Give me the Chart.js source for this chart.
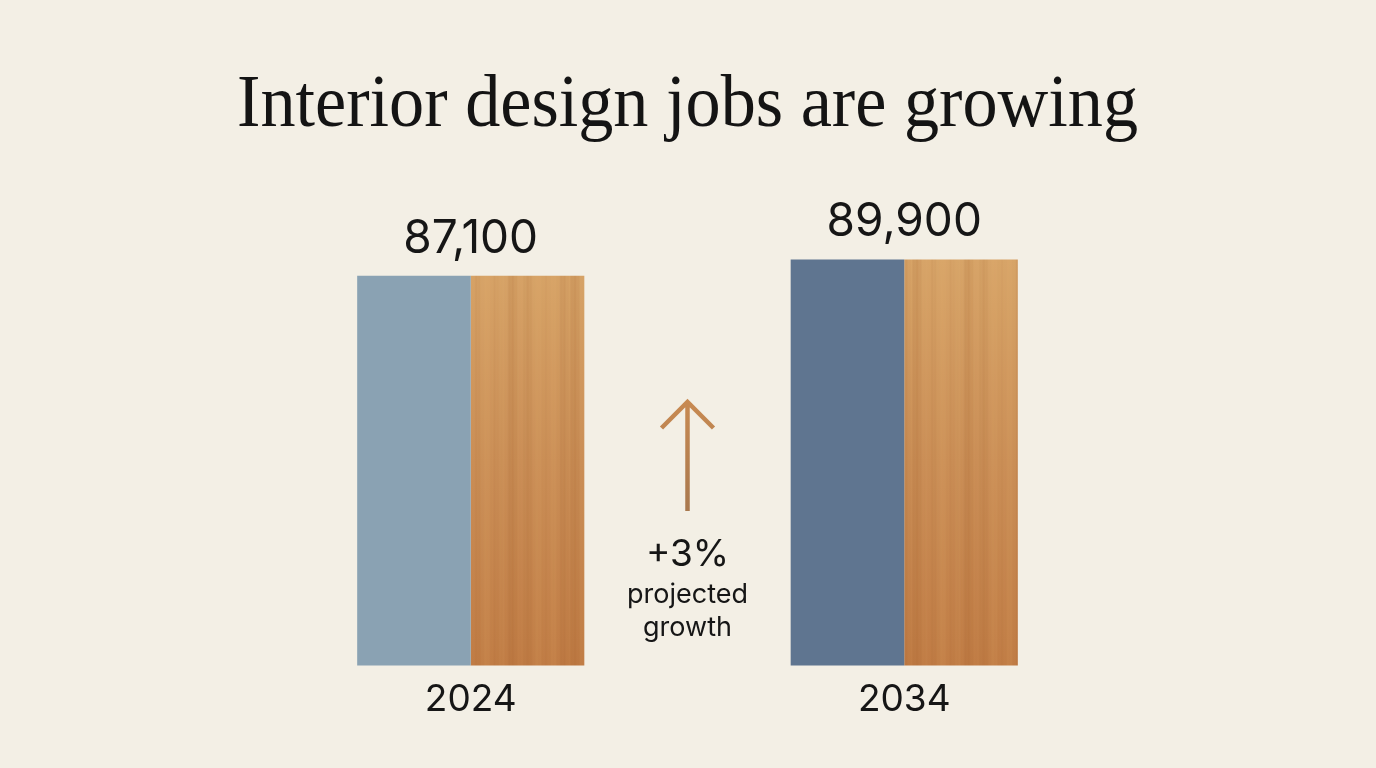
<!DOCTYPE html>
<html>
<head>
<meta charset="utf-8">
<script src="https://cdn.jsdelivr.net/npm/chart.js@4/dist/chart.umd.min.js"></script>
<style>
  html, body { margin: 0; padding: 0; background: #f3efe5; }
  #wrap { width: 1376px; height: 768px; }
</style>
</head>
<body>
<div id="wrap"><canvas id="jobs"></canvas></div>
<script>
const years = ['2024', '2034'];
const jobs = [87100, 89900];
const valueLabels = ['87,100', '89,900'];
const growthText = ['+3%', 'projected', 'growth'];

const blueColors = ['#8aa2b3', '#5f7590'];

// wood grain pattern (one tile covers the whole canvas height)
function woodPattern(ctx) {
  const c = document.createElement('canvas');
  c.width = 114; c.height = 768;
  const g = c.getContext('2d');
  const grad = g.createLinearGradient(0, 260, 0, 665);
  grad.addColorStop(0, '#d7a468');
  grad.addColorStop(0.5, '#ca8e56');
  grad.addColorStop(1, '#c07c45');
  g.fillStyle = grad;
  g.fillRect(0, 0, 114, 768);
  for (let x = 0; x < 114; x++) {
    const s = Math.sin(x * 0.37) + Math.sin(x * 0.11 + 1.3) * 0.8 + Math.sin(x * 1.7) * 0.3;
    g.fillStyle = s > 0 ? 'rgba(150,85,35,' + (s * 0.08) + ')' : 'rgba(240,190,120,' + (-s * 0.06) + ')';
    g.fillRect(x, 0, 1, 768);
  }
  return ctx.createPattern(c, 'repeat-x');
}

const annotations = {
  id: 'annotations',
  afterDatasetsDraw(chart) {
    const ctx = chart.ctx;
    const meta = chart.getDatasetMeta(0);
    const xs = chart.scales.x;
    ctx.save();
    ctx.fillStyle = '#161616';
    ctx.textAlign = 'center';
    ctx.textBaseline = 'middle';
    ctx.font = '46px Inter';
    meta.data.forEach((bar, i) => {
      ctx.fillText(valueLabels[i], xs.getPixelForValue(i), bar.y - 37);
    });

    // arrow
    const ax = (xs.getPixelForValue(0) + xs.getPixelForValue(1)) / 2;
    const grad = ctx.createLinearGradient(0, 400, 0, 512);
    grad.addColorStop(0, '#c88a52');
    grad.addColorStop(1, '#a8784e');
    ctx.strokeStyle = grad;
    ctx.lineWidth = 4.5;
    ctx.beginPath();
    ctx.moveTo(ax, 511);
    ctx.lineTo(ax, 403);
    ctx.moveTo(ax - 26, 428);
    ctx.lineTo(ax, 402);
    ctx.lineTo(ax + 26, 428);
    ctx.stroke();

    ctx.fillStyle = '#161616';
    ctx.font = '37px Inter';
    ctx.fillText(growthText[0], ax, 555);
    ctx.font = '27px Inter';
    ctx.fillText(growthText[1], ax, 595);
    ctx.fillText(growthText[2], ax, 628);
    ctx.restore();
  }
};

const canvas = document.getElementById('jobs');
const ctx = canvas.getContext('2d');
const wood = woodPattern(ctx);

// invisible side axes that only reserve space
const spacer = {
  display: true,
  ticks: { display: false },
  grid: { display: false, drawTicks: false },
  border: { display: false },
  afterFit(scale) { scale.width = 17; }
};

new Chart(ctx, {
  type: 'bar',
  data: {
    labels: years,
    datasets: [
      { label: 'a', data: jobs, backgroundColor: blueColors, barPercentage: 1, categoryPercentage: 0.524 },
      { label: 'b', data: jobs, backgroundColor: wood, barPercentage: 1, categoryPercentage: 0.524 }
    ]
  },
  options: {
    responsive: true,
    maintainAspectRatio: false,
    animation: false,
    layout: { padding: { left: 237, right: 238, top: 0, bottom: 34 } },
    plugins: {
      legend: { display: false },
      tooltip: { enabled: false },
      title: {
        display: true,
        text: 'Interior design jobs are growing',
        color: '#141414',
        font: { family: 'Liberation Serif', size: 75, weight: 'normal' },
        padding: { top: 61, bottom: 63 }
      }
    },
    scales: {
      x: {
        grid: { display: false, drawTicks: false },
        border: { display: false },
        ticks: { color: '#161616', font: { family: 'Inter', size: 37 }, padding: 12 }
      },
      y: Object.assign({ min: 20000, max: 97750 }, spacer),
      y2: Object.assign({ position: 'right', min: 20000, max: 97750 }, spacer)
    }
  },
  plugins: [annotations]
});
</script>
</body>
</html>
